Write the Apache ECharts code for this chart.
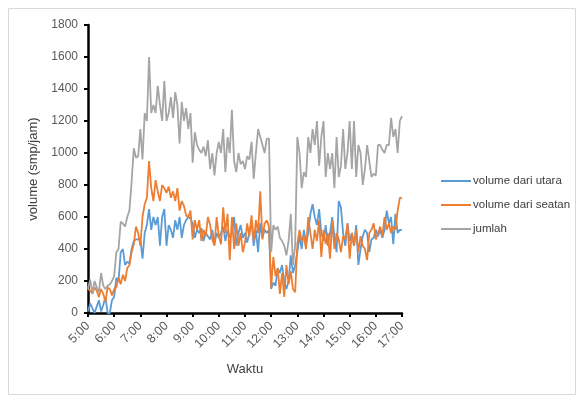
<!DOCTYPE html>
<html>
<head>
<meta charset="utf-8">
<script src="https://cdn.jsdelivr.net/npm/echarts@6/dist/echarts.min.js"></script>
<style>
  html, body { margin: 0; padding: 0; background: #fff; }
  #chart { width: 577px; height: 397px; }
</style>
</head>
<body>
<div id="chart"></div>
<script>
// hour labels shown on the x axis, data is every 5 minutes
const hourLabels = ['5:00', '6:00', '7:00', '8:00', '9:00', '10:00', '11:00',
    '12:00', '13:00', '14:00', '15:00', '16:00', '17:00'];
const minuteSteps = ['00', '05', '10', '15', '20', '25', '30', '35', '40', '45', '50', '55'];

const volumeUtara = [
    10, 60, 30, 0, 40, 80, 10, 50, 100, 0, 0, 80,
    100, 220, 200, 380, 400, 300, 320, 310, 400, 450, 460, 460,
    460, 340, 500, 550, 650, 520, 600, 550, 600, 420, 600, 650,
    420, 550, 520, 470, 580, 520, 600, 470, 550, 580, 600, 590,
    560, 470, 520, 500, 530, 450, 500, 480, 460, 520, 430, 500,
    470, 500, 540, 450, 520, 470, 500, 600, 420, 500, 550, 470,
    500, 440, 500, 570, 420, 520, 380, 560, 470, 520, 500, 520,
    150, 190, 170, 280, 250, 300, 200, 150, 200, 360, 250, 300,
    380, 480, 400, 520, 430, 500, 620, 680, 600, 550, 650, 500,
    450, 550, 420, 500, 600, 480, 380, 700, 660, 500, 420, 560,
    450, 500, 420, 550, 300, 400, 480, 520, 500, 380, 460, 470,
    520, 480, 520, 470, 520, 640, 560, 600, 430, 620, 500, 520,
    520
];

const volumeSeatan = [
    150, 140, 120, 160, 140, 100, 150, 120, 70, 160, 150, 110,
    150, 160, 220, 180, 240, 200, 280, 300, 380, 430, 540, 500,
    420, 600, 680, 720, 950, 780, 700, 830, 760, 700, 800, 780,
    750, 790, 720, 760, 700, 780, 640, 700, 670, 610, 600, 640,
    460, 580, 520, 580, 450, 520, 480, 600, 550, 460, 420, 600,
    480, 430, 660, 500, 620, 330, 600, 400, 560, 420, 500, 380,
    440, 560, 480, 610, 450, 580, 500, 760, 460, 560, 580, 540,
    160, 350, 230, 280, 120, 250, 100, 300, 180, 260, 150, 130,
    430, 520, 450, 480, 400, 600, 500, 400, 520, 450, 580, 350,
    520, 430, 500, 340, 580, 400, 500, 460, 380, 480, 460, 560,
    340, 500, 420, 520, 380, 480, 420, 400, 330, 500, 520, 560,
    460, 500, 540, 480, 600, 520, 560, 500, 540, 520, 640, 720,
    720
];

const jumlah = [
    150, 210, 120, 200, 160, 130, 250, 170, 150, 170, 180, 200,
    230, 380, 400, 570, 560, 540, 600, 640, 820, 1030, 970, 980,
    1150, 960, 1250, 1200, 1600, 1250, 1300, 1250, 1420, 1300, 1200, 1450,
    1200, 1250, 1350, 1220, 1380, 1300, 1060, 1320, 1200, 1280, 1150, 1250,
    940, 1130, 1050, 1020, 1000, 1040, 980, 1080, 900, 1000, 860, 1000,
    1070, 1000, 1150, 880, 1100, 1000, 1270, 950, 880, 1000, 930, 950,
    900, 980, 960, 1070, 840, 1000, 1150, 1100, 1050, 1000, 1090, 1090,
    380, 550, 520, 540, 470, 450, 420, 360, 450, 620, 300, 420,
    1100, 1000, 780, 880, 850, 1100, 1000, 1150, 1050, 1200, 920, 1100,
    1200, 850, 1000, 900, 1000, 780, 1100, 850, 920, 1150, 900, 1000,
    1200, 900, 1200, 850, 1050, 1000, 800, 900, 1050, 950, 850, 870,
    860, 1050, 1050, 1020, 1000, 1050, 1050, 1220, 1100, 1150, 1000, 1200,
    1230
];

// build the 5 minute categories 5:00 .. 17:00
function buildTimes() {
    let times = [];
    for (let h = 0; h < hourLabels.length - 1; h++) {
        let hour = hourLabels[h].split(':')[0];
        for (let m = 0; m < minuteSteps.length; m++) {
            times.push(hour + ':' + minuteSteps[m]);
        }
    }
    times.push(hourLabels[hourLabels.length - 1]);
    return times;
}

function lineSeries(name, data, color) {
    return {
        name: name,
        type: 'line',
        data: data,
        symbol: 'none',
        lineStyle: { color: color, width: 1.8 },
        itemStyle: { color: color },
        animation: false
    };
}

function generateChart() {
    let chart = echarts.init(document.getElementById('chart'), null, { renderer: 'canvas' });
    let font = 'Liberation Sans';
    let option = {
        backgroundColor: '#ffffff',
        animation: false,
        graphic: [{
            type: 'rect',
            shape: { x: 8.5, y: 8.5, width: 567, height: 386 },
            style: { fill: 'none', stroke: '#d9d9d9', lineWidth: 1 }
        }],
        grid: { left: 88, top: 25, width: 314, height: 288, containLabel: false },
        legend: {
            orient: 'vertical',
            left: 436,
            top: 170,
            itemWidth: 30,
            itemHeight: 2,
            itemGap: 12,
            icon: 'rect',
            textStyle: { fontFamily: font, fontSize: 11.5, color: '#404040', padding: [0, 0, 0, -3] },
            data: ['volume dari utara', 'volume dari seatan', 'jumlah']
        },
        xAxis: {
            type: 'category',
            data: buildTimes(),
            boundaryGap: false,
            name: 'Waktu',
            nameLocation: 'middle',
            nameGap: 50,
            nameTextStyle: { fontFamily: font, fontSize: 13, color: '#404040' },
            axisLine: { lineStyle: { color: '#000', width: 2.5 } },
            axisTick: { interval: 11, length: 4, lineStyle: { color: '#000', width: 2 } },
            axisLabel: {
                interval: 11,
                rotate: 45,
                margin: 11,
                fontFamily: font,
                fontSize: 12.5,
                color: '#595959'
            },
            splitLine: { show: false }
        },
        yAxis: {
            type: 'value',
            min: 0,
            max: 1800,
            interval: 200,
            name: 'volume (smp/jam)',
            nameLocation: 'middle',
            nameGap: 41,
            nameTextStyle: { fontFamily: font, fontSize: 13, color: '#404040' },
            axisLine: { show: true, lineStyle: { color: '#000', width: 2.5 } },
            axisTick: { show: true, length: 4, lineStyle: { color: '#000', width: 2 } },
            axisLabel: {
                margin: 10,
                fontFamily: font,
                fontSize: 12,
                color: '#595959',
                formatter: function (v) { return String(v); }
            },
            splitLine: { show: false }
        },
        series: [
            lineSeries('volume dari utara', volumeUtara, '#5b9bd5'),
            lineSeries('volume dari seatan', volumeSeatan, '#ed7d31'),
            lineSeries('jumlah', jumlah, '#a5a5a5')
        ]
    };
    chart.setOption(option);
}

generateChart();
</script>
</body>
</html>
